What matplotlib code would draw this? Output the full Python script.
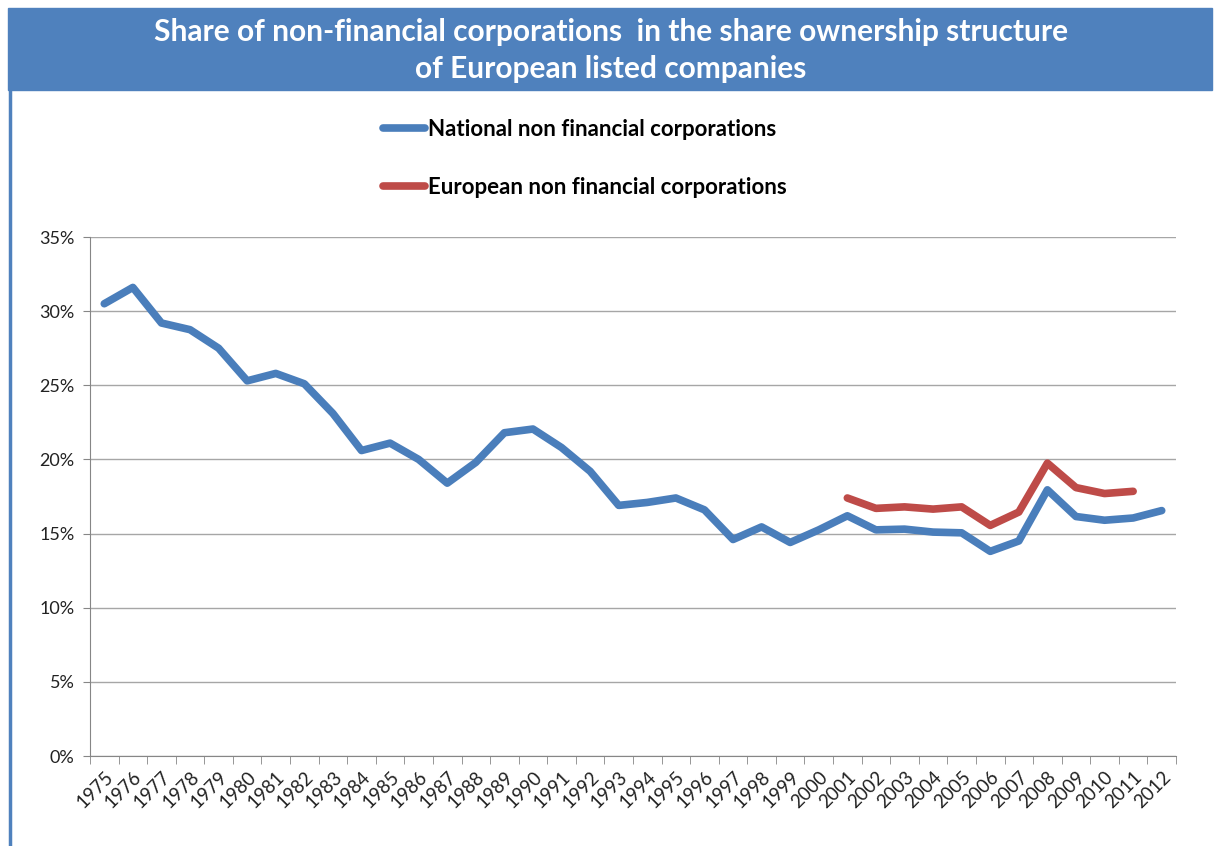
import numpy as np
import matplotlib
matplotlib.use("Agg")
import matplotlib.pyplot as plt
from matplotlib.patches import Rectangle
from matplotlib.lines import Line2D

plt.rcParams["font.family"] = ["Lato", "DejaVu Sans"]

years = list(range(1975, 2013))
national = [30.5, 31.6, 29.2, 28.75, 27.5, 25.3, 25.8, 25.1, 23.1, 20.6,
            21.1, 20.0, 18.4, 19.8, 21.8, 22.05, 20.8, 19.2, 16.9, 17.1,
            17.4, 16.6, 14.6, 15.45, 14.4, 15.25, 16.2, 15.25, 15.3, 15.1,
            15.05, 13.8, 14.5, 17.95, 16.15, 15.9, 16.05, 16.55]
european_years = list(range(2001, 2012))
european = [17.4, 16.7, 16.8, 16.65, 16.8, 15.55, 16.45, 19.75, 18.1, 17.7, 17.85]
yticks = [0, 5, 10, 15, 20, 25, 30, 35]

blue = "#4A7EBB"
red = "#BE4B48"

fig = plt.figure(figsize=(12.15, 8.46), dpi=100)

# title banner and left border
fig.patches.append(Rectangle((8 / 1215, 1 - 90 / 846), 1204 / 1215, 82 / 846,
                             transform=fig.transFigure, color="#4F81BD", zorder=0))
fig.add_artist(Line2D([10 / 1215, 10 / 1215], [0, 1 - 90 / 846],
                      transform=fig.transFigure, color="#4F81BD", lw=2.5))
fig.text(0.503, 1 - 32 / 846, "Share of non-financial corporations  in the share ownership structure",
         color="white", fontsize=21.5, fontweight="bold", ha="center", va="center")
fig.text(0.503, 1 - 69 / 846, "of European listed companies",
         color="white", fontsize=21.5, fontweight="bold", ha="center", va="center")

ax = fig.add_axes([90 / 1215, 1 - 756 / 846, 1086 / 1215, 519 / 846])

x = np.arange(len(years))
xe = [years.index(y) for y in european_years]
ax.plot(x, national, color=blue, lw=5.5, solid_capstyle="round", solid_joinstyle="round")
ax.plot(xe, european, color=red, lw=5.5, solid_capstyle="round", solid_joinstyle="round")

ax.set_xlim(-0.5, len(years) - 0.5)
ax.set_ylim(0, 35)
ax.set_yticks(yticks)
ax.set_yticklabels([f"{v}%" for v in yticks])
ax.yaxis.grid(True, color="#A6A6A6", lw=1)
ax.set_axisbelow(True)

ax.set_xticks(x)
ax.set_xticklabels([str(y) for y in years], rotation=45, ha="right",
                   rotation_mode="anchor")
ax.set_xticks(np.arange(-0.5, len(years)), minor=True)
ax.tick_params(axis="x", which="major", length=0, pad=9, labelsize=13.5, labelcolor="#222222")
ax.tick_params(axis="x", which="minor", length=6, color="#868686")
ax.tick_params(axis="y", length=5, color="#868686", labelsize=13, labelcolor="#222222", pad=6)

for s in ["top", "right"]:
    ax.spines[s].set_visible(False)
for s in ["left", "bottom"]:
    ax.spines[s].set_color("#868686")

# legend
fig.add_artist(Line2D([383 / 1215, 425 / 1215], [1 - 128 / 846] * 2,
                      transform=fig.transFigure, color=blue, lw=5.5, solid_capstyle="round"))
fig.add_artist(Line2D([383 / 1215, 425 / 1215], [1 - 186 / 846] * 2,
                      transform=fig.transFigure, color=red, lw=5.5, solid_capstyle="round"))
fig.text(428 / 1215, 1 - 129 / 846, "National non financial corporations",
         fontsize=16, fontweight="bold", va="center")
fig.text(428 / 1215, 1 - 187 / 846, "European non financial corporations",
         fontsize=16, fontweight="bold", va="center")

fig.savefig("out.png", dpi=100, facecolor="white")
